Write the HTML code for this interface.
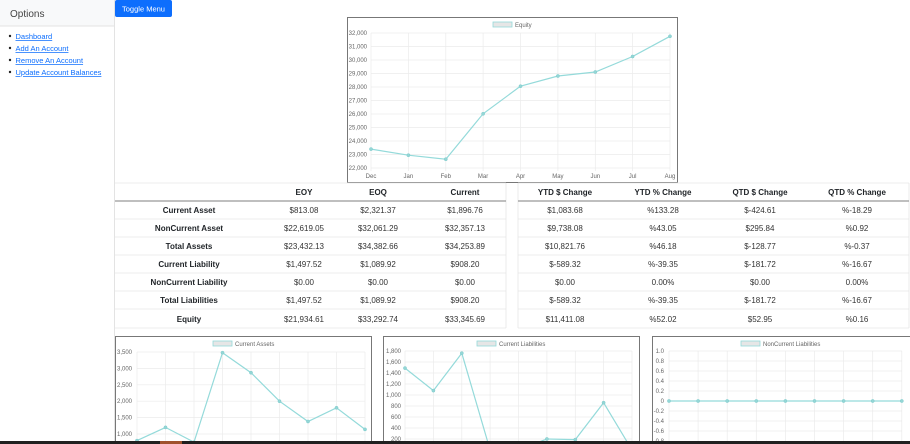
<!DOCTYPE html>
<html><head><meta charset="utf-8"><style>
body{margin:0;width:910px;height:444px;overflow:hidden;background:#fff;font-family:"Liberation Sans",sans-serif;}
svg{position:absolute;left:0;top:0}
.t{font-size:6px;fill:#666}
.h{font-size:8px;font-weight:bold;fill:#212529}
.d{font-size:8px;fill:#333}
.g{stroke:#ebebeb;stroke-width:0.7}
.ln{fill:none;stroke:#94dada;stroke-width:1.2}
.pt{fill:#94d6d6;stroke:#7fcccc;stroke-width:.5}
</style></head><body>
<svg width="910" height="444" viewBox="0 0 910 444">
<rect x="0" y="0" width="114" height="26" fill="#f8f9fa"/>
<line x1="0" y1="26" x2="114" y2="26" stroke="#e3e3e3"/>
<line x1="114.5" y1="0" x2="114.5" y2="444" stroke="#e3e3e3"/>
<text x="10" y="17" font-size="10" fill="#444">Options</text>
<g font-size="7.5" fill="#0d6efd" text-decoration="underline">
<circle cx="10" cy="36" r="1.2" fill="#222"/><text x="15.5" y="39">Dashboard</text>
<circle cx="10" cy="48" r="1.2" fill="#222"/><text x="15.5" y="51">Add An Account</text>
<circle cx="10" cy="60" r="1.2" fill="#222"/><text x="15.5" y="63">Remove An Account</text>
<circle cx="10" cy="72" r="1.2" fill="#222"/><text x="15.5" y="75">Update Account Balances</text>
</g>
<rect x="115" y="0" width="57" height="17" rx="2" fill="#0d6efd"/>
<text x="143.5" y="11.5" font-size="7.5" fill="#fff" text-anchor="middle">Toggle Menu</text>

<rect x="347.5" y="17.5" width="330" height="165" fill="#fff" stroke="#777"/>
<g class="g">
<line x1="371" y1="33" x2="670" y2="33"/><line x1="371" y1="46.5" x2="670" y2="46.5"/><line x1="371" y1="60" x2="670" y2="60"/><line x1="371" y1="73.5" x2="670" y2="73.5"/><line x1="371" y1="87" x2="670" y2="87"/><line x1="371" y1="100.5" x2="670" y2="100.5"/><line x1="371" y1="114" x2="670" y2="114"/><line x1="371" y1="127.5" x2="670" y2="127.5"/><line x1="371" y1="141" x2="670" y2="141"/><line x1="371" y1="154.5" x2="670" y2="154.5"/><line x1="371" y1="168" x2="670" y2="168"/>
<line x1="371" y1="33" x2="371" y2="171"/><line x1="408.4" y1="33" x2="408.4" y2="171"/><line x1="445.8" y1="33" x2="445.8" y2="171"/><line x1="483.1" y1="33" x2="483.1" y2="171"/><line x1="520.5" y1="33" x2="520.5" y2="171"/><line x1="557.9" y1="33" x2="557.9" y2="171"/><line x1="595.3" y1="33" x2="595.3" y2="171"/><line x1="632.6" y1="33" x2="632.6" y2="171"/><line x1="670" y1="33" x2="670" y2="171"/>
</g>
<g class="t" text-anchor="end">
<text x="367" y="35">32,000</text><text x="367" y="48.5">31,000</text><text x="367" y="62">30,000</text><text x="367" y="75.5">29,000</text><text x="367" y="89">28,000</text><text x="367" y="102.5">27,000</text><text x="367" y="116">26,000</text><text x="367" y="129.5">25,000</text><text x="367" y="143">24,000</text><text x="367" y="156.5">23,000</text><text x="367" y="170">22,000</text>
</g>
<g class="t" text-anchor="middle">
<text x="371" y="178">Dec</text><text x="408.4" y="178">Jan</text><text x="445.8" y="178">Feb</text><text x="483.1" y="178">Mar</text><text x="520.5" y="178">Apr</text><text x="557.9" y="178">May</text><text x="595.3" y="178">Jun</text><text x="632.6" y="178">Jul</text><text x="670" y="178">Aug</text>
</g>
<rect x="493" y="22" width="19" height="5" fill="#e6e6e6" stroke="#94dada" stroke-width=".8"/>
<text class="t" x="515" y="27">Equity</text>
<polyline class="ln" points="371,149.1 408.4,155.2 445.8,159.2 483.1,113.8 520.5,86.2 557.9,76 595.3,72 632.6,56.5 670,36.3"/>
<g class="pt"><circle cx="371" cy="149.1" r="1.6"/><circle cx="408.4" cy="155.2" r="1.6"/><circle cx="445.8" cy="159.2" r="1.6"/><circle cx="483.1" cy="113.8" r="1.6"/><circle cx="520.5" cy="86.2" r="1.6"/><circle cx="557.9" cy="76" r="1.6"/><circle cx="595.3" cy="72" r="1.6"/><circle cx="632.6" cy="56.5" r="1.6"/><circle cx="670" cy="36.3" r="1.6"/></g>

<g stroke="#e6e6e6" stroke-width=".8">
<line x1="115" y1="183" x2="506" y2="183"/>
<line x1="115" y1="219" x2="506" y2="219"/><line x1="115" y1="237" x2="506" y2="237"/><line x1="115" y1="255" x2="506" y2="255"/><line x1="115" y1="273" x2="506" y2="273"/><line x1="115" y1="291" x2="506" y2="291"/><line x1="115" y1="309" x2="506" y2="309"/><line x1="115" y1="328" x2="506" y2="328"/>
<line x1="506" y1="183" x2="506" y2="328"/>
<line x1="518" y1="183" x2="909" y2="183"/>
<line x1="518" y1="219" x2="909" y2="219"/><line x1="518" y1="237" x2="909" y2="237"/><line x1="518" y1="255" x2="909" y2="255"/><line x1="518" y1="273" x2="909" y2="273"/><line x1="518" y1="291" x2="909" y2="291"/><line x1="518" y1="309" x2="909" y2="309"/><line x1="518" y1="328" x2="909" y2="328"/>
<line x1="518" y1="183" x2="518" y2="328"/><line x1="909" y1="183" x2="909" y2="328"/>
</g>
<line x1="115" y1="201" x2="506" y2="201" stroke="#999" stroke-width="1.2"/>
<line x1="518" y1="201" x2="909" y2="201" stroke="#999" stroke-width="1.2"/>
<g text-anchor="middle">
<text class="h" x="304" y="195">EOY</text><text class="h" x="378" y="195">EOQ</text><text class="h" x="465" y="195">Current</text>
<text class="h" x="565" y="195">YTD $ Change</text><text class="h" x="663" y="195">YTD % Change</text><text class="h" x="760" y="195">QTD $ Change</text><text class="h" x="857" y="195">QTD % Change</text>
<text class="h" x="189" y="213">Current Asset</text><text class="d" x="304" y="213">$813.08</text><text class="d" x="378" y="213">$2,321.37</text><text class="d" x="465" y="213">$1,896.76</text><text class="d" x="565" y="213">$1,083.68</text><text class="d" x="663" y="213">%133.28</text><text class="d" x="760" y="213">$-424.61</text><text class="d" x="857" y="213">%-18.29</text>
<text class="h" x="189" y="231">NonCurrent Asset</text><text class="d" x="304" y="231">$22,619.05</text><text class="d" x="378" y="231">$32,061.29</text><text class="d" x="465" y="231">$32,357.13</text><text class="d" x="565" y="231">$9,738.08</text><text class="d" x="663" y="231">%43.05</text><text class="d" x="760" y="231">$295.84</text><text class="d" x="857" y="231">%0.92</text>
<text class="h" x="189" y="249">Total Assets</text><text class="d" x="304" y="249">$23,432.13</text><text class="d" x="378" y="249">$34,382.66</text><text class="d" x="465" y="249">$34,253.89</text><text class="d" x="565" y="249">$10,821.76</text><text class="d" x="663" y="249">%46.18</text><text class="d" x="760" y="249">$-128.77</text><text class="d" x="857" y="249">%-0.37</text>
<text class="h" x="189" y="267">Current Liability</text><text class="d" x="304" y="267">$1,497.52</text><text class="d" x="378" y="267">$1,089.92</text><text class="d" x="465" y="267">$908.20</text><text class="d" x="565" y="267">$-589.32</text><text class="d" x="663" y="267">%-39.35</text><text class="d" x="760" y="267">$-181.72</text><text class="d" x="857" y="267">%-16.67</text>
<text class="h" x="189" y="285">NonCurrent Liability</text><text class="d" x="304" y="285">$0.00</text><text class="d" x="378" y="285">$0.00</text><text class="d" x="465" y="285">$0.00</text><text class="d" x="565" y="285">$0.00</text><text class="d" x="663" y="285">0.00%</text><text class="d" x="760" y="285">$0.00</text><text class="d" x="857" y="285">0.00%</text>
<text class="h" x="189" y="303">Total Liabilities</text><text class="d" x="304" y="303">$1,497.52</text><text class="d" x="378" y="303">$1,089.92</text><text class="d" x="465" y="303">$908.20</text><text class="d" x="565" y="303">$-589.32</text><text class="d" x="663" y="303">%-39.35</text><text class="d" x="760" y="303">$-181.72</text><text class="d" x="857" y="303">%-16.67</text>
<text class="h" x="189" y="322">Equity</text><text class="d" x="304" y="322">$21,934.61</text><text class="d" x="378" y="322">$33,292.74</text><text class="d" x="465" y="322">$33,345.69</text><text class="d" x="565" y="322">$11,411.08</text><text class="d" x="663" y="322">%52.02</text><text class="d" x="760" y="322">$52.95</text><text class="d" x="857" y="322">%0.16</text>
</g>

<rect x="115.5" y="336.5" width="256" height="110" fill="#fff" stroke="#777"/>
<g class="g">
<line x1="137" y1="352" x2="365" y2="352"/><line x1="137" y1="368.4" x2="365" y2="368.4"/><line x1="137" y1="384.8" x2="365" y2="384.8"/><line x1="137" y1="401.2" x2="365" y2="401.2"/><line x1="137" y1="417.6" x2="365" y2="417.6"/><line x1="137" y1="434" x2="365" y2="434"/>
<line x1="137" y1="352" x2="137" y2="444"/><line x1="165.5" y1="352" x2="165.5" y2="444"/><line x1="194" y1="352" x2="194" y2="444"/><line x1="222.5" y1="352" x2="222.5" y2="444"/><line x1="251" y1="352" x2="251" y2="444"/><line x1="279.5" y1="352" x2="279.5" y2="444"/><line x1="308" y1="352" x2="308" y2="444"/><line x1="336.5" y1="352" x2="336.5" y2="444"/><line x1="365" y1="352" x2="365" y2="444"/>
</g>
<g class="t" text-anchor="end"><text x="132" y="354">3,500</text><text x="132" y="370.4">3,000</text><text x="132" y="386.8">2,500</text><text x="132" y="403.2">2,000</text><text x="132" y="419.6">1,500</text><text x="132" y="436">1,000</text></g>
<rect x="213" y="341" width="19" height="5" fill="#e6e6e6" stroke="#94dada" stroke-width=".8"/>
<text class="t" x="235" y="346">Current Assets</text>
<polyline class="ln" points="137,440.6 165.5,427.4 194,442.2 222.5,352.7 251,372.7 279.5,401.2 308,421.5 336.5,407.8 365,429.4"/>
<g class="pt"><circle cx="137" cy="440.6" r="1.6"/><circle cx="165.5" cy="427.4" r="1.6"/><circle cx="194" cy="442.2" r="1.6"/><circle cx="222.5" cy="352.7" r="1.6"/><circle cx="251" cy="372.7" r="1.6"/><circle cx="279.5" cy="401.2" r="1.6"/><circle cx="308" cy="421.5" r="1.6"/><circle cx="336.5" cy="407.8" r="1.6"/><circle cx="365" cy="429.4" r="1.6"/></g>

<rect x="383.5" y="336.5" width="256" height="110" fill="#fff" stroke="#777"/>
<g class="g">
<line x1="405" y1="351" x2="632" y2="351"/><line x1="405" y1="362" x2="632" y2="362"/><line x1="405" y1="373" x2="632" y2="373"/><line x1="405" y1="384" x2="632" y2="384"/><line x1="405" y1="395" x2="632" y2="395"/><line x1="405" y1="406" x2="632" y2="406"/><line x1="405" y1="417" x2="632" y2="417"/><line x1="405" y1="428" x2="632" y2="428"/><line x1="405" y1="439" x2="632" y2="439"/>
<line x1="405" y1="351" x2="405" y2="444"/><line x1="433.4" y1="351" x2="433.4" y2="444"/><line x1="461.8" y1="351" x2="461.8" y2="444"/><line x1="490.1" y1="351" x2="490.1" y2="444"/><line x1="518.5" y1="351" x2="518.5" y2="444"/><line x1="546.9" y1="351" x2="546.9" y2="444"/><line x1="575.3" y1="351" x2="575.3" y2="444"/><line x1="603.6" y1="351" x2="603.6" y2="444"/><line x1="632" y1="351" x2="632" y2="444"/>
</g>
<g class="t" text-anchor="end"><text x="401" y="353">1,800</text><text x="401" y="364">1,600</text><text x="401" y="375">1,400</text><text x="401" y="386">1,200</text><text x="401" y="397">1,000</text><text x="401" y="408">800</text><text x="401" y="419">600</text><text x="401" y="430">400</text><text x="401" y="441">200</text></g>
<rect x="477" y="341" width="19" height="5" fill="#e6e6e6" stroke="#94dada" stroke-width=".8"/>
<text class="t" x="499" y="346">Current Liabilities</text>
<polyline class="ln" points="405,368.1 433.4,390.6 461.8,353.2 490.1,450 518.5,450 546.9,439 575.3,439.6 603.6,402.7 632,450"/>
<g class="pt"><circle cx="405" cy="368.1" r="1.6"/><circle cx="433.4" cy="390.6" r="1.6"/><circle cx="461.8" cy="353.2" r="1.6"/><circle cx="546.9" cy="439" r="1.6"/><circle cx="575.3" cy="439.6" r="1.6"/><circle cx="603.6" cy="402.7" r="1.6"/></g>

<rect x="652.5" y="336.5" width="260" height="110" fill="#fff" stroke="#777"/>
<g class="g">
<line x1="669" y1="351" x2="902" y2="351"/><line x1="669" y1="361" x2="902" y2="361"/><line x1="669" y1="371" x2="902" y2="371"/><line x1="669" y1="381" x2="902" y2="381"/><line x1="669" y1="391" x2="902" y2="391"/><line x1="669" y1="411" x2="902" y2="411"/><line x1="669" y1="421" x2="902" y2="421"/><line x1="669" y1="431" x2="902" y2="431"/>
<line x1="669" y1="351" x2="669" y2="444"/><line x1="698.1" y1="351" x2="698.1" y2="444"/><line x1="727.2" y1="351" x2="727.2" y2="444"/><line x1="756.3" y1="351" x2="756.3" y2="444"/><line x1="785.4" y1="351" x2="785.4" y2="444"/><line x1="814.5" y1="351" x2="814.5" y2="444"/><line x1="843.6" y1="351" x2="843.6" y2="444"/><line x1="872.7" y1="351" x2="872.7" y2="444"/><line x1="901.8" y1="351" x2="901.8" y2="444"/>
</g>
<g class="t" text-anchor="end"><text x="664" y="353">1.0</text><text x="664" y="363">0.8</text><text x="664" y="373">0.6</text><text x="664" y="383">0.4</text><text x="664" y="393">0.2</text><text x="664" y="403">0</text><text x="664" y="413">-0.2</text><text x="664" y="423">-0.4</text><text x="664" y="433">-0.6</text><text x="664" y="443">-0.8</text></g>
<rect x="741" y="341" width="19" height="5" fill="#e6e6e6" stroke="#94dada" stroke-width=".8"/>
<text class="t" x="763" y="346">NonCurrent Liabilities</text>
<line x1="669" y1="401" x2="902" y2="401" stroke="#94dada" stroke-width="1.2"/>
<g class="pt"><circle cx="669" cy="401" r="1.6"/><circle cx="698.1" cy="401" r="1.6"/><circle cx="727.2" cy="401" r="1.6"/><circle cx="756.3" cy="401" r="1.6"/><circle cx="785.4" cy="401" r="1.6"/><circle cx="814.5" cy="401" r="1.6"/><circle cx="843.6" cy="401" r="1.6"/><circle cx="872.7" cy="401" r="1.6"/><circle cx="901.8" cy="401" r="1.6"/></g>

<rect x="0" y="441" width="910" height="3" fill="#202020"/>
<rect x="160" y="441" width="22" height="3" fill="#a0522d"/>
</svg>
</body></html>
